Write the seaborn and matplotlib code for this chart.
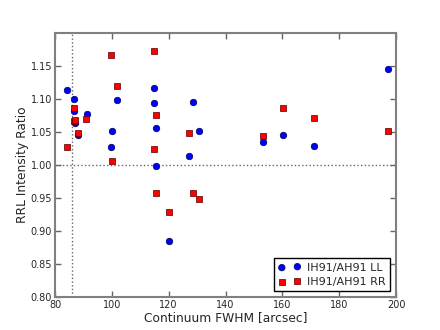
import pandas as pd
import matplotlib
matplotlib.use("Agg")
import matplotlib.pyplot as plt
import seaborn as sns

# LL polarisation (blue circles)
ll_fwhm = [84.1, 86.7, 86.8, 87.0, 88.0, 91.1, 99.8, 100.2, 101.8, 115.0, 114.8,
           115.6, 115.6, 120.0, 127.3, 128.6, 130.5, 153.3, 160.1, 171.1, 197.2]
ll_ratio = [1.114, 1.100, 1.082, 1.064, 1.046, 1.077, 1.027, 1.051, 1.098, 1.116, 1.094,
            1.056, 0.999, 0.885, 1.013, 1.096, 1.052, 1.035, 1.045, 1.029, 1.146]

# RR polarisation (red squares)
rr_fwhm = [84.1, 86.8, 86.7, 87.0, 88.0, 91.0, 99.8, 100.2, 101.8, 115.0, 115.6,
           115.0, 115.6, 120.0, 127.3, 128.7, 130.5, 153.3, 160.1, 171.1, 197.2]
rr_ratio = [1.028, 1.086, 1.067, 1.068, 1.049, 1.070, 1.167, 1.006, 1.120, 1.172, 1.076,
            1.024, 0.958, 0.929, 1.048, 0.957, 0.948, 1.044, 1.087, 1.071, 1.051]

beam_fwhm = 86.0
x_ticks = [80, 100, 120, 140, 160, 180, 200]
y_ticks = [0.80, 0.85, 0.90, 0.95, 1.00, 1.05, 1.10, 1.15]

ll = pd.DataFrame({"fwhm": ll_fwhm, "ratio": ll_ratio})
rr = pd.DataFrame({"fwhm": rr_fwhm, "ratio": rr_ratio})

sns.set_style("white")
plt.rcParams["font.family"] = ["DejaVu Sans"]
plt.rcParams["xtick.direction"] = "in"
plt.rcParams["ytick.direction"] = "in"

fig, ax = plt.subplots(figsize=(4.4, 3.3), dpi=100)
fig.subplots_adjust(left=0.125, right=0.9, bottom=0.1, top=0.9)

ax.axvline(beam_fwhm, color="0.4", ls=":", lw=1)
ax.axhline(1.0, color="0.4", ls=":", lw=1)

sns.scatterplot(data=ll, x="fwhm", y="ratio", ax=ax, color="#0000ff", marker="o",
                s=22, edgecolor="#000055", linewidth=0.5, label="IH91/AH91 LL", zorder=3)
sns.scatterplot(data=rr, x="fwhm", y="ratio", ax=ax, color="#ff0000", marker="s",
                s=20, edgecolor="#550000", linewidth=0.5, label="IH91/AH91 RR", zorder=4)

ax.set_xlim(80, 200)
ax.set_ylim(0.80, 1.20)
ax.set_xticks(x_ticks)
ax.set_yticks(y_ticks)
ax.set_yticklabels([f"{v:.2f}" for v in y_ticks])
ax.tick_params(axis="both", which="major", direction="in", labelsize=7, length=4,
               width=1, color="0.4", bottom=True, left=True, top=True, right=True, pad=2)
for sp in ax.spines.values():
    sp.set_visible(True)
    sp.set_color("0.5")
    sp.set_linewidth(1.5)

ax.set_xlabel("Continuum FWHM [arcsec]", fontsize=8.8, labelpad=1)
ax.set_ylabel("RRL Intensity Ratio", fontsize=8.8, labelpad=1)

leg = ax.legend(loc="lower right", scatterpoints=2, numpoints=2, fontsize=8,
                fancybox=False, framealpha=1, edgecolor="black",
                borderpad=0.4, handletextpad=0.6, labelspacing=0.4)
leg.get_frame().set_linewidth(1.0)

plt.savefig("out.png", dpi=100)
